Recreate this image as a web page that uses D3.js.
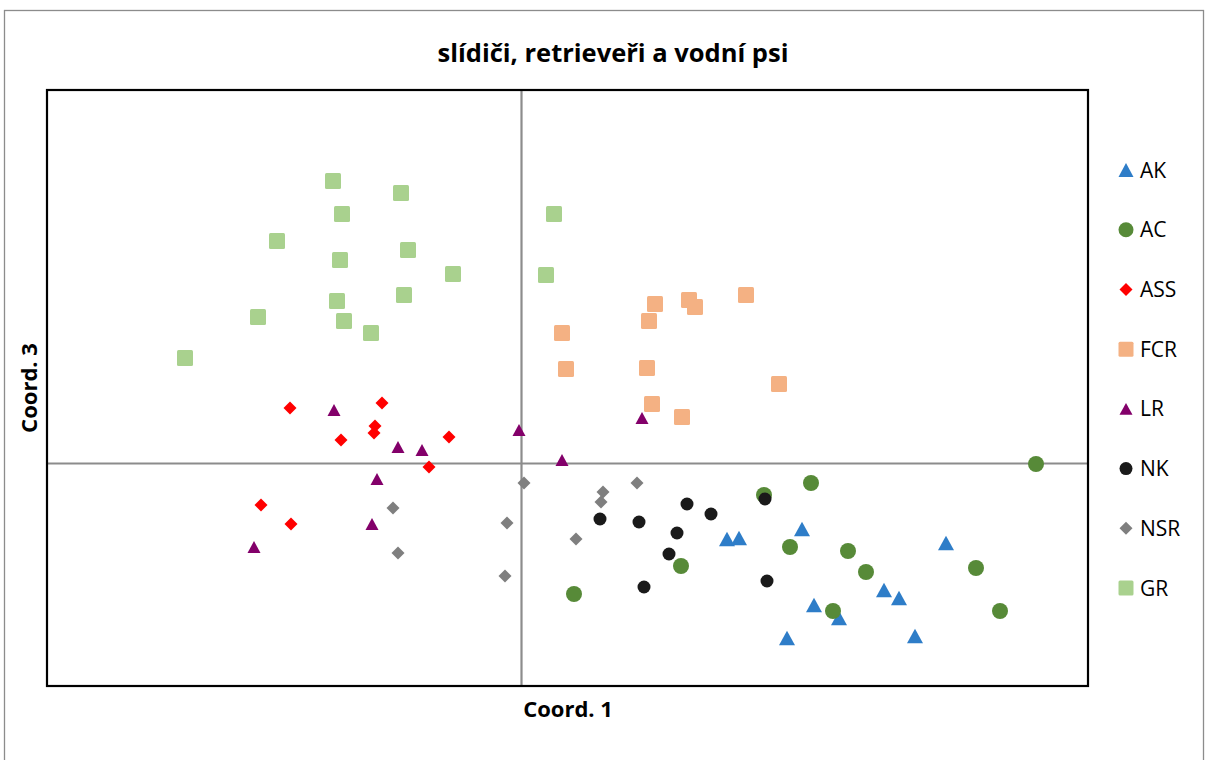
<!DOCTYPE html>
<html>
<head>
<meta charset="utf-8">
<script src="https://cdn.jsdelivr.net/npm/d3@7"></script>
<style>
  html, body { margin: 0; padding: 0; background: #fff; }
  svg { display: block; font-family: "Open Sans", "Noto Sans", sans-serif; }
</style>
</head>
<body>
<svg id="chart" width="1205" height="760"></svg>
<script>
// ---- Data (Coord. 1, Coord. 3) ----
const seriesNames = ["AK", "AC", "ASS", "FCR", "LR", "NK", "NSR", "GR"];

const akX = [0.206, 0.218, 0.281, 0.425, 0.363, 0.378, 0.293, 0.318, 0.266, 0.394];
const akY = [-0.076, -0.075, -0.066, -0.080, -0.127, -0.135, -0.142, -0.155, -0.175, -0.173];

const acX = [0.515, 0.290, 0.243, 0.269, 0.327, 0.345, 0.455, 0.479, 0.312, 0.160, 0.053];
const acY = [-0.001, -0.020, -0.032, -0.084, -0.088, -0.109, -0.105, -0.148, -0.148, -0.103, -0.131];

const assX = [-0.231, -0.139, -0.146, -0.147, -0.180, -0.072, -0.092, -0.260, -0.230];
const assY = [0.055, 0.060, 0.037, 0.030, 0.023, 0.026, -0.004, -0.042, -0.061];

const fcrX = [0.134, 0.168, 0.174, 0.225, 0.128, 0.041, 0.045, 0.126, 0.258, 0.131, 0.161];
const fcrY = [0.159, 0.163, 0.156, 0.168, 0.142, 0.130, 0.094, 0.095, 0.079, 0.059, 0.046];

const lrX = [-0.187, -0.123, -0.099, -0.144, -0.149, -0.267, 0.121, -0.002, 0.041];
const lrY = [0.053, 0.016, 0.013, -0.016, -0.061, -0.084, 0.045, 0.033, 0.003];

const nkX = [0.166, 0.190, 0.079, 0.118, 0.156, 0.148, 0.123, 0.244, 0.246];
const nkY = [-0.041, -0.051, -0.056, -0.059, -0.070, -0.091, -0.124, -0.036, -0.118];

const nsrX = [0.003, 0.082, 0.080, 0.116, -0.014, 0.055, -0.016, -0.128, -0.123];
const nsrY = [-0.020, -0.029, -0.039, -0.020, -0.060, -0.076, -0.113, -0.045, -0.090];

const grX = [-0.188, -0.120, -0.179, -0.244, -0.113, -0.181, -0.068, -0.117, -0.184, -0.263, -0.177, -0.150, -0.336, 0.033, 0.025];
const grY = [0.282, 0.270, 0.249, 0.222, 0.213, 0.203, 0.189, 0.168, 0.162, 0.146, 0.142, 0.130, 0.105, 0.249, 0.188];

const xDomain = [-0.474, 0.567];
const yDomain = [-0.223, 0.373];

const titleText = "slídiči, retrieveři a vodní psi";
const xTitle = "Coord. 1";
const yTitle = "Coord. 3";

// ---- Styles ----
const styles = {
  AK:  { shape: "triangle", color: "#2E7DC8", size: 16 },
  AC:  { shape: "circle",   color: "#578A38", size: 16 },
  ASS: { shape: "diamond",  color: "#FF0000", size: 13 },
  FCR: { shape: "square",   color: "#F4B183", size: 16 },
  LR:  { shape: "triangle", color: "#83006A", size: 13 },
  NK:  { shape: "circle",   color: "#1A1A1A", size: 13 },
  NSR: { shape: "diamond",  color: "#7F7F7F", size: 13 },
  GR:  { shape: "square",   color: "#A9D18E", size: 16 }
};

const seriesData = {
  AK: [akX, akY], AC: [acX, acY], ASS: [assX, assY], FCR: [fcrX, fcrY],
  LR: [lrX, lrY], NK: [nkX, nkY], NSR: [nsrX, nsrY], GR: [grX, grY]
};

const svg = d3.select("#chart");

// outer chart border
svg.append("rect")
  .attr("x", 4.5).attr("y", 10.5)
  .attr("width", 1199).attr("height", 770)
  .attr("fill", "none").attr("stroke", "#8c8c8c").attr("stroke-width", 1.3);

const plot = { left: 47, top: 90, right: 1088, bottom: 686 };

const x = d3.scaleLinear().domain(xDomain).range([plot.left, plot.right]);
const y = d3.scaleLinear().domain(yDomain).range([plot.bottom, plot.top]);

// plot area
svg.append("rect")
  .attr("x", plot.left).attr("y", plot.top)
  .attr("width", plot.right - plot.left).attr("height", plot.bottom - plot.top)
  .attr("fill", "#fff");

// axis lines through zero (no ticks/labels)
const xAxis = d3.axisBottom(x).tickValues([]).tickSizeOuter(0);
const yAxis = d3.axisLeft(y).tickValues([]).tickSizeOuter(0);
svg.append("g").attr("transform", `translate(0,${y(0)})`).call(xAxis)
  .select(".domain").attr("stroke", "#8c8c8c").attr("stroke-width", 2.2);
svg.append("g").attr("transform", `translate(${x(0)},0)`).call(yAxis)
  .select(".domain").attr("stroke", "#8c8c8c").attr("stroke-width", 2.2);

function shapePath(shape, s) {
  const h = s / 2;
  if (shape === "triangle") {
    const th = s * 0.92;
    return `M0,${-th/2} L${h},${th/2} L${-h},${th/2} Z`;
  }
  if (shape === "diamond") {
    return `M0,${-h} L${h},0 L0,${h} L${-h},0 Z`;
  }
  if (shape === "square") {
    const r = 1.5;
    return `M${-h+r},${-h} H${h-r} Q${h},${-h} ${h},${-h+r} V${h-r} Q${h},${h} ${h-r},${h} H${-h+r} Q${-h},${h} ${-h},${h-r} V${-h+r} Q${-h},${-h} ${-h+r},${-h} Z`;
  }
  // circle
  return `M${-h},0 A${h},${h} 0 1,0 ${h},0 A${h},${h} 0 1,0 ${-h},0 Z`;
}

const marks = svg.append("g");
seriesNames.forEach(name => {
  const st = styles[name];
  const [xs, ys] = seriesData[name];
  const pts = xs.map((v, i) => ({ x: v, y: ys[i] }));
  marks.append("g").selectAll("path").data(pts).join("path")
    .attr("d", shapePath(st.shape, st.size))
    .attr("transform", d => `translate(${x(d.x)},${y(d.y)})`)
    .attr("fill", st.color);
});

// plot border
svg.append("rect")
  .attr("x", plot.left).attr("y", plot.top)
  .attr("width", plot.right - plot.left).attr("height", plot.bottom - plot.top)
  .attr("fill", "none").attr("stroke", "#000").attr("stroke-width", 2.2);

// title
svg.append("text")
  .attr("x", 613).attr("y", 62)
  .attr("text-anchor", "middle")
  .attr("font-weight", "bold").attr("font-size", 25.5)
  .attr("fill", "#000")
  .text(titleText);

// axis titles
svg.append("text")
  .attr("x", 568).attr("y", 717)
  .attr("text-anchor", "middle")
  .attr("font-weight", "bold").attr("font-size", 22)
  .text(xTitle);

svg.append("text")
  .attr("transform", "translate(37,388) rotate(-90)")
  .attr("text-anchor", "middle")
  .attr("font-weight", "bold").attr("font-size", 22)
  .text(yTitle);

// legend
const legend = svg.append("g");
const legendY = d3.scalePoint().domain(seriesNames).range([170, 588]);
seriesNames.forEach(name => {
  const st = styles[name];
  const cy = legendY(name);
  const ls = st.size === 16 ? 15 : 13;
  legend.append("path")
    .attr("d", shapePath(st.shape, ls))
    .attr("transform", `translate(1126,${cy})`)
    .attr("fill", st.color);
  legend.append("text")
    .attr("x", 1140).attr("y", cy + 7.5)
    .attr("font-size", 21)
    .attr("fill", "#000")
    .text(name);
});
</script>
</body>
</html>
